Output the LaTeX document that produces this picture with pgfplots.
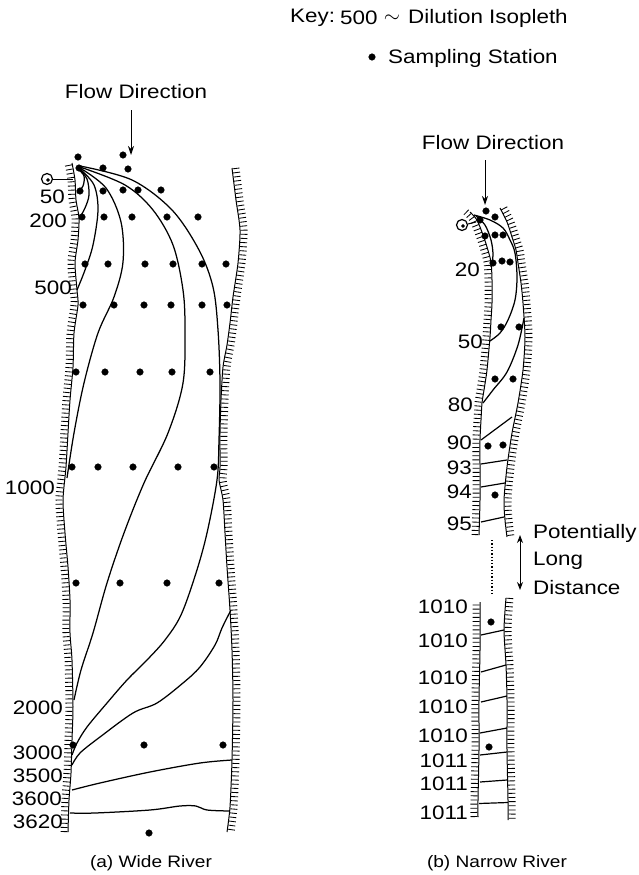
\documentclass[border=0pt]{standalone}
\usepackage{fontspec}
\setmainfont{Liberation Sans}[FakeStretch=1.15]
\usepackage{pgfplots}
\usepackage{pgfplotstable}
\pgfplotsset{compat=1.18}
\usetikzlibrary{arrows.meta}

\newcommand\lab{\fontsize{19.5}{22}\selectfont}
\newcommand\capfont{\fontsize{16.6}{19}\selectfont}

% river banks (pixel-like units, y downwards)
\pgfplotstableread{
x y
68 832
69 800
71 773
72 740
73 707
72 660
70 633
70 600
68 567
65 533
63 500
66 467
68 433
70 400
73 367
74 333
78 305
77 290
75 263
78 240
79 218
76 200
75 180
72 163
}\wideleft
\pgfplotstableread{
x y
232 168
236 200
240 230
238 263
233 297
230 323
227 345
223 367
221 400
220 433
220 467
219 480
223 500
225 533
227 567
230 610
232 650
233 700
232 760
230 807
227 832
}\wideright
\pgfplotstableread{
x y
479 535
480 500
480 467
480 440
481 420
482 403
484 390
487 370
490 337
491 320
492 303
492 280
491 262
487 247
483 235
477 220
470 212
}\narrowleftA
\pgfplotstableread{
x y
500 208
507 222
512 237
516 250
518 263
521 283
523 303
525 337
523 370
518 403
512 433
507 467
504 500
505 520
507 537
}\narrowrightA
\pgfplotstableread{
x y
478 817
478 800
479 750
479 700
480 650
480 602
}\narrowleftB
\pgfplotstableread{
x y
506 598
504 630
506 665
507 700
507 750
508 800
508 820
}\narrowrightB

\tikzset{
  bank/.style={black, line width=1pt, smooth, tension=0.45},
  hatch/.style={black, line width=7pt, smooth, tension=0.45, dash pattern=on 0.85pt off 3.3pt},
  iso/.style={black, line width=1.25pt, smooth, tension=0.55},
  cross/.style={black, line width=1.2pt},
  station/.style={black, only marks, mark=*, mark size=3.3pt},
  lbl/.style={anchor=east, font=\lab, inner sep=0pt},
  txt/.style={anchor=west, font=\lab, inner sep=0pt},
}

\begin{document}
\begin{tikzpicture}
\begin{axis}[width=639pt, height=875pt, scale only axis, hide axis,
  xmin=0, xmax=639, ymin=0, ymax=875, y dir=reverse, clip=false]

% keep the full drawing area as the picture's frame
\path (axis cs:0,0) rectangle (axis cs:639,875);

% ---------------- key ----------------
\node[txt] at (axis cs:290,18) {Key:};
\node[txt] at (axis cs:340,18) {500};
\node[inner sep=0pt, font=\lab] at (axis cs:392,19) {$\sim$};
\node[txt] at (axis cs:408,18) {Dilution Isopleth};
\addplot[station] coordinates {(372,57)};
\node[txt] at (axis cs:388,58) {Sampling Station};

% ================= (a) wide river =================
\addplot[bank] table {\wideleft};
\addplot[hatch] table[x expr=\thisrow{x}-4, y=y] {\wideleft};
\addplot[bank] table {\wideright};
\addplot[hatch] table[x expr=\thisrow{x}+4, y=y] {\wideright};

% dilution isopleths
\addplot[iso] coordinates {(79,170)(84,176)(83,186)(77,193)};                         % 50
\addplot[iso] coordinates {(79,169)(87,179)(89,195)(85,208)(79,219)};                 % 200
\addplot[iso] coordinates {(80,169)(94,185)(98,210)(93,245)(85,270)(77,290)};         % 500
\addplot[iso] coordinates {(80,168)(106,188)(121,222)(123,262)(114,297)(98,333)(84,383)(74,433)(67,478)}; % 1000
\addplot[iso] coordinates {(80,167)(125,185)(153,210)(173,245)(183,290)(185,330)(183,383)(168,433)(144,483)(124,533)(107,583)(93,633)(81,670)(74,700)}; % 2000
\addplot[iso] coordinates {(80,166)(132,180)(172,210)(199,250)(213,287)(218,330)(220,383)(219,440)(217,480)(207,533)(196,573)(181,615)(165,640)(147,660)(127,680)(107,703)(87,727)(77,743)(72,755)}; % 3000
\addplot[iso] coordinates {(231,610)(222,628)(215,645)(200,667)(183,683)(157,703)(133,713)(100,737)(80,753)(72,765)}; % 3500
\addplot[iso] coordinates {(72,790)(100,783)(150,772)(200,763)(232,760)};             % 3600
\addplot[iso] coordinates {(70,813)(95,813)(150,810)(180,806)(196,806)(207,810)(230,811)}; % 3620

% outfall
\addplot[black, line width=1pt] coordinates {(53,179)(73,179)};
\addplot[black, line width=1.2pt, only marks, mark=o, mark size=5.5pt] coordinates {(47,179)};
\addplot[black, only marks, mark=*, mark size=1.6pt] coordinates {(48,180)};

% sampling stations
\addplot[station] coordinates {
(78,157)(123,155)(79,168)(103,168)(128,169)(80,191)(103,191)(123,190)(138,190)(161,190)
(82,217)(104,217)(132,217)(167,217)(198,217)
(85,264)(108,264)(145,264)(173,264)(202,264)(226,264)
(83,305)(114,305)(144,305)(171,305)(202,305)(227,305)
(76,372)(105,372)(140,372)(172,372)(210,372)
(72,467)(98,467)(133,467)(178,467)(214,467)
(76,583)(120,583)(167,583)(219,583)
(73,745)(144,745)(223,745)
(149,833)};

% isopleth values
\node[lbl] at (axis cs:65,197) {50};
\node[lbl] at (axis cs:67,221) {200};
\node[lbl] at (axis cs:72,288) {500};
\node[lbl] at (axis cs:55,488) {1000};
\node[lbl] at (axis cs:63,708) {2000};
\node[lbl] at (axis cs:63,753) {3000};
\node[lbl] at (axis cs:63,776) {3500};
\node[lbl] at (axis cs:62,799) {3600};
\node[lbl] at (axis cs:63,822) {3620};

% flow direction
\node[font=\lab, inner sep=0pt] at (axis cs:136,92) {Flow Direction};
\draw[line width=1pt, -{Stealth[length=9pt, width=6pt]}] (axis cs:131,110) -- (axis cs:131,155);

\node[font=\capfont, inner sep=0pt] at (axis cs:151,863) {(a) Wide River};

% ================= (b) narrow river =================
\addplot[bank] table {\narrowleftA};
\addplot[hatch] table[x expr=\thisrow{x}-4, y=y] {\narrowleftA};
\addplot[bank] table {\narrowrightA};
\addplot[hatch] table[x expr=\thisrow{x}+4, y=y] {\narrowrightA};
\addplot[bank] table {\narrowleftB};
\addplot[hatch] table[x expr=\thisrow{x}-4, y=y] {\narrowleftB};
\addplot[bank] table {\narrowrightB};
\addplot[hatch] table[x expr=\thisrow{x}+4, y=y] {\narrowrightB};

\addplot[iso] coordinates {(476,216)(485,225)(491,240)(493,255)(491,267)};            % 20
\addplot[iso] coordinates {(474,215)(490,220)(503,228)(510,240)(515,253)(517,277)(515,300)(508,320)(500,333)(490,341)}; % 50
\addplot[iso] coordinates {(524,318)(518,345)(507,372)(493,390)(483,403)};            % 80
\addplot[cross] coordinates {(481,440)(512,417)}; % 90
\addplot[cross] coordinates {(481,464)(507,460)}; % 93
\addplot[cross] coordinates {(481,487)(505,483)}; % 94
\addplot[cross] coordinates {(481,522)(504,517)}; % 95
\addplot[cross] coordinates {(481,635)(504,630)};
\addplot[cross] coordinates {(481,672)(506,665)};
\addplot[cross] coordinates {(481,702)(507,696)};
\addplot[cross] coordinates {(480,733)(507,728)};
\addplot[cross] coordinates {(480,755)(507,752)};
\addplot[cross] coordinates {(480,782)(507,780)};
\addplot[cross] coordinates {(479,803.5)(508,802.5)};

% outfall
\addplot[black, line width=1pt] coordinates {(468,224)(476,222)};
\addplot[black, line width=1.2pt, only marks, mark=o, mark size=5.5pt] coordinates {(462,225)};
\addplot[black, only marks, mark=*, mark size=1.6pt] coordinates {(463,226)};

\addplot[station] coordinates {
(486,211)(495,217)(480,220)(485,236)(495,235)(503,235)(493,263)(502,261)(510,262)
(501,327)(519,327)(495,379)(513,379)(488,446)(503,445)(495,495)(491,622)(489,747)};

\node[lbl] at (axis cs:480,270) {20};
\node[lbl] at (axis cs:483,342) {50};
\node[lbl] at (axis cs:473,405) {80};
\node[lbl] at (axis cs:472,443) {90};
\node[lbl] at (axis cs:472,468) {93};
\node[lbl] at (axis cs:472,492) {94};
\node[lbl] at (axis cs:472,524) {95};
\node[lbl] at (axis cs:468,607) {1010};
\node[lbl] at (axis cs:468,641) {1010};
\node[lbl] at (axis cs:468,678) {1010};
\node[lbl] at (axis cs:468,707) {1010};
\node[lbl] at (axis cs:468,736) {1010};
\node[lbl] at (axis cs:468,761) {1011};
\node[lbl] at (axis cs:468,784) {1011};
\node[lbl] at (axis cs:468,813) {1011};

% gap in the narrow channel
\draw[line width=1.3pt, dotted] (axis cs:492,540) -- (axis cs:492,593);
\draw[line width=1pt, {Stealth[length=8pt, width=6pt]}-{Stealth[length=8pt, width=6pt]}] (axis cs:520,535) -- (axis cs:520,590);
\node[txt] at (axis cs:533,533) {Potentially};
\node[txt] at (axis cs:533,561) {Long};
\node[txt] at (axis cs:533,588) {Distance};

\node[font=\lab, inner sep=0pt] at (axis cs:493,143) {Flow Direction};
\draw[line width=1pt, -{Stealth[length=9pt, width=6pt]}] (axis cs:485,160) -- (axis cs:485,205);

\node[font=\capfont, inner sep=0pt] at (axis cs:497,863) {(b) Narrow River};

\end{axis}
\end{tikzpicture}
\end{document}
